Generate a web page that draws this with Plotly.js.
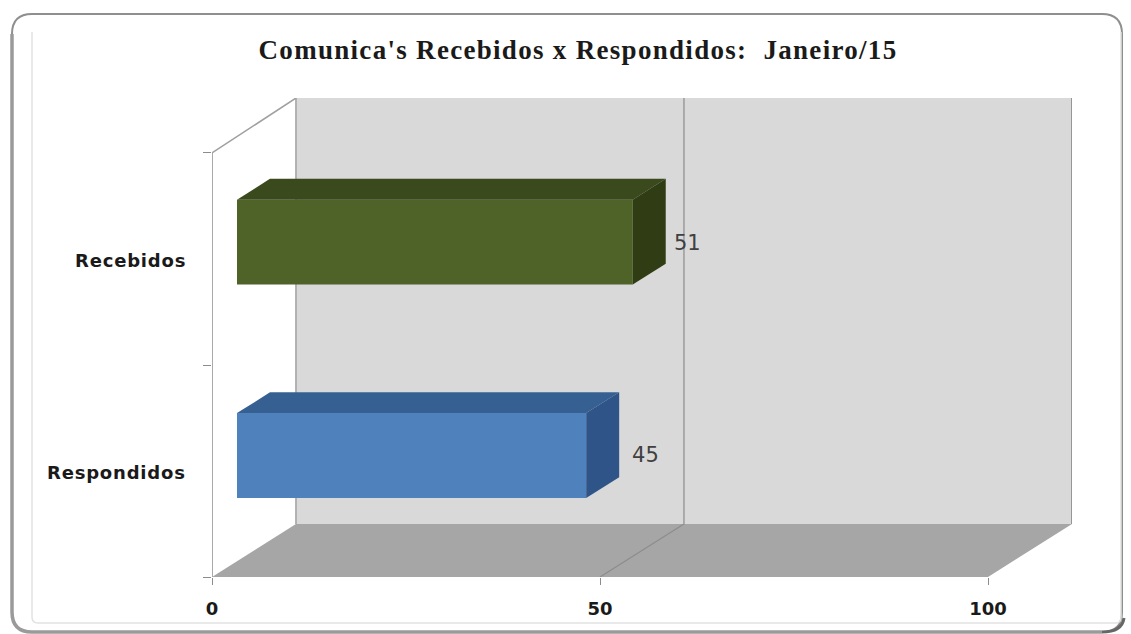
<!DOCTYPE html>
<html>
<head>
<meta charset="utf-8">
<script src="https://cdn.plot.ly/plotly-3.0.1.min.js"></script>
<style>
html,body{margin:0;padding:0;background:#fff}
.gtitle{letter-spacing:1.3px}
.annotation-text{letter-spacing:.8px}
</style>
</head>
<body>
<div id="chart" style="width:1131px;height:634px"></div>
<script>
var categories = ['Respondidos', 'Recebidos'];
var values = [45, 51];
var frontColors = ['#4f81bd', '#4f6228'];
var topColors = ['#376092', '#3b4a1c'];
var sideColors = ['#2f5588', '#2f3c14'];
var labelOffsets = [10.85, 10.25];
var barShifts = [0.073, 0.08];
var xTicks = [0, 50, 100];
var yTicks = [-0.5, 0.5, 1.5];

var W = 1131, H = 634;
var M = {l: 212, r: 59, t: 98, b: 57};
var xMax = 860 / 7.76, yMin = -0.5, yMax = 1.7594;
var depthX = 10.82, depthY = 0.25;
var barBase = 3.22, barHalf = 0.2, barDX = 4.25, barDY = 0.098;

function poly(xs, ys, color) {
  return {type: 'scatter', mode: 'lines', x: xs, y: ys, fill: 'toself', fillcolor: color,
          line: {width: 0, color: color}, hoverinfo: 'skip', showlegend: false, cliponaxis: false};
}
function dataPath(xs, ys) {
  return xs.map(function (x, i) { return (i ? 'L' : 'M') + x + ',' + ys[i]; }).join(' ');
}
function shapePoly(xs, ys, color) {
  return {type: 'path', xref: 'x', yref: 'y', layer: 'below', path: dataPath(xs, ys) + ' Z',
          fillcolor: color, line: {width: 0}};
}
function shapeLine(xs, ys, color, w) {
  return {type: 'path', xref: 'x', yref: 'y', layer: 'below', path: dataPath(xs, ys),
          fillcolor: 'rgba(0,0,0,0)', line: {width: w, color: color}};
}

var traces = [];
values.forEach(function (v, i) {
  var y0 = i + barShifts[i] - barHalf, y1 = i + barShifts[i] + barHalf, x0 = barBase, x1 = barBase + v;
  traces.push(poly([x0, x1, x1 + barDX, x0 + barDX, x0], [y1, y1, y1 + barDY, y1 + barDY, y1], topColors[i]));
  traces.push(poly([x1, x1 + barDX, x1 + barDX, x1, x1], [y0, y0 + barDY, y1 + barDY, y1, y0], sideColors[i]));
});
traces.push({type: 'bar', orientation: 'h', y: categories.map(function (c, i) { return i + barShifts[i]; }),
  x: values, base: values.map(function () { return barBase; }), width: barHalf * 2,
  marker: {color: frontColors, line: {width: 0}}, hoverinfo: 'skip', showlegend: false});
traces.push({type: 'scatter', mode: 'text', x: values.map(function (v, i) { return v + labelOffsets[i]; }),
  y: values.map(function (v, i) { return i + 0.065; }), text: values.map(String),
  textposition: 'middle center', textfont: {family: 'DejaVu Sans', size: 21, color: '#404040'},
  hoverinfo: 'skip', showlegend: false, cliponaxis: false});

function px(x) { return (x - M.l) / (W - M.l - M.r); }
function py(y) { return (H - M.b - y) / (H - M.t - M.b); }
function P(x, y) { return px(x) + ',' + py(y); }
function rr(x0, y0, x1, y1, r) {
  return 'M' + P(x0 + r, y0) + ' L' + P(x1 - r, y0) + ' Q' + P(x1, y0) + ' ' + P(x1, y0 + r) +
    ' L' + P(x1, y1 - r) + ' Q' + P(x1, y1) + ' ' + P(x1 - r, y1) +
    ' L' + P(x0 + r, y1) + ' Q' + P(x0, y1) + ' ' + P(x0, y1 - r) +
    ' L' + P(x0, y0 + r) + ' Q' + P(x0, y0) + ' ' + P(x0 + r, y0) + ' Z';
}
function framePath(d, color, w) {
  return {type: 'path', xref: 'paper', yref: 'paper', layer: 'below', path: d,
          line: {color: color, width: w}, fillcolor: 'rgba(0,0,0,0)'};
}

var layout = {
  width: W, height: H, autosize: false,
  margin: {l: M.l, r: M.r, t: M.t, b: M.b, pad: 0},
  paper_bgcolor: '#ffffff', plot_bgcolor: 'rgba(0,0,0,0)',
  showlegend: false, barmode: 'overlay',
  title: {text: "Comunica's Recebidos x Respondidos:\u00a0\u00a0Janeiro/15",
          x: 578 / W, xanchor: 'center', y: 1 - 50 / H, yanchor: 'middle',
          font: {family: 'Liberation Serif', size: 27, color: '#1a1a1a', weight: 'bold'}},
  xaxis: {range: [0, xMax], tickmode: 'array', tickvals: xTicks, ticktext: xTicks.map(String),
          ticks: 'outside', ticklen: 7, tickcolor: '#8c8c8c', showgrid: false, zeroline: false, showline: false,
          tickfont: {family: 'DejaVu Sans', size: 18, color: '#1a1a1a', weight: 'bold'}, ticklabelstandoff: 8},
  yaxis: {range: [yMin, yMax], tickmode: 'array', tickvals: yTicks, ticktext: yTicks.map(function () { return ''; }),
          ticks: 'outside', ticklen: 8, tickcolor: '#8c8c8c', showgrid: false, zeroline: false, showline: false},
  annotations: categories.map(function (c, i) {
    return {text: c, x: px(188), y: i - 0.005, xref: 'paper', yref: 'y', xanchor: 'right', yanchor: 'middle',
            showarrow: false, font: {family: 'DejaVu Sans', size: 18, color: '#1a1a1a', weight: 'bold'}};
  }),
  shapes: [
    framePath(rr(12, 14, 1122, 632, 20), '#8f8f8f', 2),
    framePath('M' + P(32, 32) + ' L' + P(32, 617) + ' Q' + P(32, 623) + ' ' + P(38, 623) + ' L' + P(1116, 623) + ' Q' + P(1121, 623) + ' ' + P(1121, 617) + ' L' + P(1121, 32), '#e2e2e2', 1.5),
    framePath('M' + P(12, 34) + ' L' + P(12, 612) + ' Q' + P(12, 632) + ' ' + P(32, 632) + ' L' + P(1102, 632), '#9a9a9a', 3.5),
    framePath('M' + P(1102, 632) + ' Q' + P(1122, 632) + ' ' + P(1124, 618), '#666666', 3),
    shapePoly([depthX, xMax, xMax, depthX], [yMin + depthY, yMin + depthY, yMax, yMax], '#d9d9d9'),
    shapePoly([0, 100, xMax, depthX], [yMin, yMin, yMin + depthY, yMin + depthY], '#a6a6a6'),
    shapeLine([0, 0], [yMin, 1.5], '#8c8c8c', 1.5),
    shapeLine([0, depthX], [1.5, yMax], '#a0a0a0', 1.5),
    shapeLine([depthX, depthX], [yMin + depthY, yMax], '#a0a0a0', 1.5),
    shapeLine([xMax, xMax], [yMin + depthY, yMax], '#7f7f7f', 1.5),
    shapeLine([50, 50 + depthX, 50 + depthX], [yMin, yMin + depthY, yMax], '#8c8c8c', 1.2)
  ]
};
Plotly.newPlot('chart', traces, layout, {displayModeBar: false, staticPlot: true});
</script>
</body>
</html>
